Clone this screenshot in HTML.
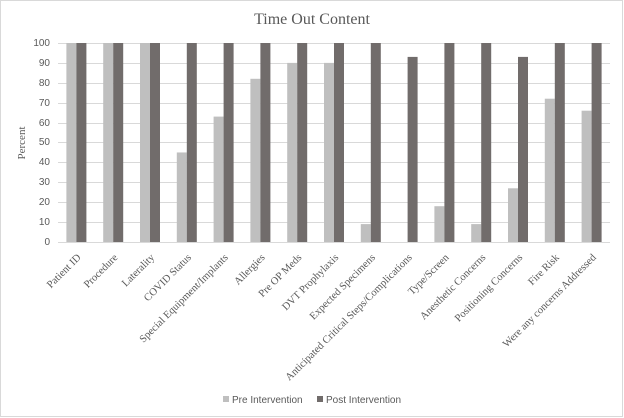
<!DOCTYPE html>
<html><head><meta charset="utf-8"><style>
html,body{margin:0;padding:0;background:#fff;}
svg{display:block;}
</style></head><body>
<svg width="624" height="418" xmlns="http://www.w3.org/2000/svg">
<rect x="0.5" y="0.5" width="622" height="416" fill="#fff" stroke="#d9d9d9"/>
<text x="312" y="24" text-anchor="middle" font-family="Liberation Serif, serif" font-size="16" fill="#595959">Time Out Content</text>
<g stroke="#d9d9d9" stroke-width="1">
<line x1="58" x2="610" y1="43.5" y2="43.5"/>
<line x1="58" x2="610" y1="63.5" y2="63.5"/>
<line x1="58" x2="610" y1="83.5" y2="83.5"/>
<line x1="58" x2="610" y1="103.5" y2="103.5"/>
<line x1="58" x2="610" y1="123.5" y2="123.5"/>
<line x1="58" x2="610" y1="142.5" y2="142.5"/>
<line x1="58" x2="610" y1="162.5" y2="162.5"/>
<line x1="58" x2="610" y1="182.5" y2="182.5"/>
<line x1="58" x2="610" y1="202.5" y2="202.5"/>
<line x1="58" x2="610" y1="222.5" y2="222.5"/>
<line x1="58" x2="610" y1="242.5" y2="242.5"/>
</g>
<g font-family="Liberation Sans, sans-serif" font-size="10" fill="#595959" text-anchor="end">
<text x="50" y="46">100</text><text x="50" y="66">90</text><text x="50" y="86">80</text><text x="50" y="106">70</text><text x="50" y="126">60</text><text x="50" y="145">50</text><text x="50" y="165">40</text><text x="50" y="185">30</text><text x="50" y="205">20</text><text x="50" y="225">10</text><text x="50" y="245">0</text>
</g>
<text transform="translate(25,143) rotate(-90)" text-anchor="middle" font-family="Liberation Serif, serif" font-size="11" fill="#595959">Percent</text>
<g fill="#bfbfbf">
<rect x="66.4" y="43" width="10" height="199"/>
<rect x="103.2" y="43" width="10" height="199"/>
<rect x="140" y="43" width="10" height="199"/>
<rect x="176.8" y="152.45" width="10" height="89.55"/>
<rect x="213.6" y="116.6" width="10" height="125.4"/>
<rect x="250.4" y="78.8" width="10" height="163.2"/>
<rect x="287.2" y="62.9" width="10" height="179.1"/>
<rect x="324" y="62.9" width="10" height="179.1"/>
<rect x="360.8" y="224.1" width="10" height="17.9"/>
<rect x="434.4" y="206.2" width="10" height="35.8"/>
<rect x="471.2" y="224.1" width="10" height="17.9"/>
<rect x="508" y="188.3" width="10" height="53.7"/>
<rect x="544.8" y="98.7" width="10" height="143.3"/>
<rect x="581.6" y="110.7" width="10" height="131.3"/>
</g>
<g fill="#716c6b">
<rect x="76.4" y="43" width="10" height="199"/>
<rect x="113.2" y="43" width="10" height="199"/>
<rect x="150" y="43" width="10" height="199"/>
<rect x="186.8" y="43" width="10" height="199"/>
<rect x="223.6" y="43" width="10" height="199"/>
<rect x="260.4" y="43" width="10" height="199"/>
<rect x="297.2" y="43" width="10" height="199"/>
<rect x="334" y="43" width="10" height="199"/>
<rect x="370.8" y="43" width="10" height="199"/>
<rect x="407.6" y="56.9" width="10" height="185.1"/>
<rect x="444.4" y="43" width="10" height="199"/>
<rect x="481.2" y="43" width="10" height="199"/>
<rect x="518" y="56.9" width="10" height="185.1"/>
<rect x="554.8" y="43" width="10" height="199"/>
<rect x="591.6" y="43" width="10" height="199"/>
</g>
<g font-family="Liberation Serif, serif" font-size="10.6" fill="#595959" text-anchor="end">
<text transform="translate(81.4,258) rotate(-45)">Patient ID</text>
<text transform="translate(118.2,258) rotate(-45)">Procedure</text>
<text transform="translate(155,258) rotate(-45)">Laterality</text>
<text transform="translate(191.8,258) rotate(-45)">COVID Status</text>
<text transform="translate(228.6,258) rotate(-45)">Special Equipment/Implants</text>
<text transform="translate(265.4,258) rotate(-45)">Allergies</text>
<text transform="translate(302.2,258) rotate(-45)">Pre OP Meds</text>
<text transform="translate(339,258) rotate(-45)">DVT Prophylaxis</text>
<text transform="translate(375.8,258) rotate(-45)">Expected Specimens</text>
<text transform="translate(412.6,258) rotate(-45)">Anticipated Critical Steps/Complications</text>
<text transform="translate(449.4,258) rotate(-45)">Type/Screen</text>
<text transform="translate(486.2,258) rotate(-45)">Anesthetic Concerns</text>
<text transform="translate(523,258) rotate(-45)">Positioning Concerns</text>
<text transform="translate(559.8,258) rotate(-45)">Fire Risk</text>
<text transform="translate(596.6,258) rotate(-45)">Were any concerns Addressed</text>
</g>
<rect x="223" y="396" width="6" height="6" fill="#bfbfbf"/>
<text x="232" y="403" font-family="Liberation Sans, sans-serif" font-size="10" fill="#595959">Pre Intervention</text>
<rect x="317" y="396" width="6" height="6" fill="#716c6b"/>
<text x="326" y="403" font-family="Liberation Sans, sans-serif" font-size="10" fill="#595959">Post Intervention</text>
</svg>
</body></html>
